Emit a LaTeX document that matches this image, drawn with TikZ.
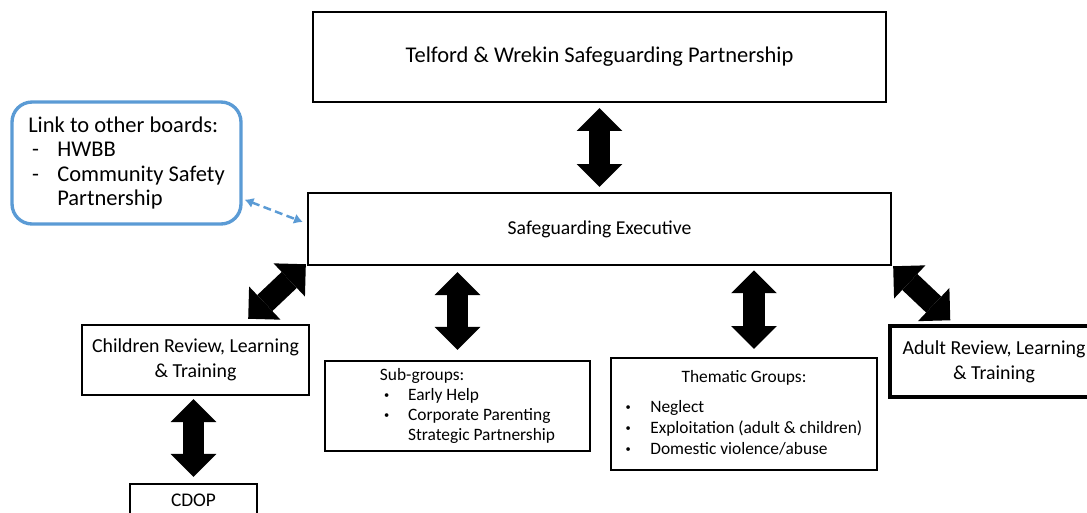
\documentclass[tikz,border=0pt]{standalone}
\usepackage{fontspec}
\setmainfont{Carlito}
\usepackage{tikz}
\usetikzlibrary{arrows.meta,positioning,calc}
\definecolor{linkblue}{HTML}{5B9BD5}

\newcommand{\dotitem}{\raisebox{0.2ex}{\scalebox{0.6}{\textbullet}}}

\tikzset{
  box/.style={draw, line width=1.4pt, fill=white, align=center, inner sep=0pt},
  linkbox/.style={draw=linkblue, line width=1.9pt, rounded corners=0.4cm, fill=white, align=left, inner sep=0pt},
  bigarrow/.style={line width=12.5pt, {Triangle[length=13pt,width=26pt,line width=0pt]}-{Triangle[length=13pt,width=26pt,line width=0pt]}},
  linkarrow/.style={linkblue, line width=1.4pt, dash pattern=on 4.5pt off 2.5pt, {Latex[length=5pt,width=6pt]}-{Latex[length=5pt,width=6pt]}}
}

\begin{document}
\begin{tikzpicture}[x=0.02cm,y=-0.02cm]
\useasboundingbox (0,0) rectangle (1087,512);

% boxes
\node[box, minimum width=11.46cm, minimum height=1.8cm, font=\fontsize{12.8}{15}\selectfont] (board) at (599.5,57) {Telford \& Wrekin Safeguarding Partnership};
\node[box, minimum width=11.66cm, minimum height=1.44cm, font=\fontsize{11.2}{13}\selectfont] (exec) at (599.5,229) {Safeguarding Executive};
\node[linkbox, minimum width=4.58cm, minimum height=2.44cm, font=\fontsize{12.8}{13.8}\selectfont] (link) at (126.5,163)
  {Link to other boards:\\\makebox[16.5pt][l]{\,-}HWBB\\\makebox[16.5pt][l]{\,-}Community Safety\\\makebox[16.5pt][l]{}Partnership};
\node[box, minimum width=4.54cm, minimum height=1.4cm, font=\fontsize{11.3}{14.2}\selectfont] (child) at (195.5,360) {Children Review, Learning\\\& Training};
\node[box, align=left, minimum width=5.3cm, minimum height=1.8cm, font=\fontsize{9.9}{11.3}\selectfont] (sub) at (457.5,406)
  {\hspace*{0.4cm}Sub-groups:\\\hspace*{0.4cm}\makebox[16pt][l]{\hspace{2.3pt}\dotitem}Early Help\\\hspace*{0.4cm}\makebox[16pt][l]{\hspace{2.3pt}\dotitem}Corporate Parenting\\\hspace*{0.4cm}\makebox[16pt][l]{}Strategic Partnership};
\node[box, minimum width=5.32cm, minimum height=2.24cm, font=\fontsize{9.9}{12}\selectfont] (them) at (744,414)
  {\begin{tabular}{@{}l@{}}\multicolumn{1}{@{}c@{}}{Thematic Groups:}\\[5pt]
  \makebox[14pt][l]{\dotitem}Neglect\\\makebox[14pt][l]{\dotitem}Exploitation (adult \& children)\\\makebox[14pt][l]{\dotitem}Domestic violence/abuse\end{tabular}};
\node[box, line width=2pt, minimum width=4.16cm, minimum height=1.42cm, font=\fontsize{11.3}{14.2}\selectfont] (adult) at (994,361.5) {Adult Review, Learning\\\& Training};
\node[box, minimum width=2.54cm, minimum height=0.64cm, font=\fontsize{11}{13}\selectfont] (cdop) at (193.5,500) {CDOP};

% block arrows
\draw[bigarrow, shorten <=2.8pt, shorten >=2.8pt] (board.south) -- (exec.north);
\draw[bigarrow, shorten <=3.4pt, shorten >=5.7pt] (exec.south -| sub.north) -- (sub.north);
\draw[bigarrow, shorten <=2.3pt, shorten >=4.5pt] ($(exec.south -| them.north)+(10,0)$) -- ($(them.north)+(10,0)$);
\draw[bigarrow, shorten <=1.7pt, shorten >=3.4pt] (child.south -| cdop.north) -- (cdop.north);
\draw[bigarrow] ($(child.north east)+(-62,-5)$) -- ($(exec.south west)+(-1,-2)$);
\draw[bigarrow] ($(exec.south east)+(1,0)$) -- ($(adult.north west)+(62,-4)$);

% link to other boards
\draw[linkarrow] ($(link.south east)+(2,-26)$) -- ($(exec.west)+(-4,-7)$);
\end{tikzpicture}
\end{document}
